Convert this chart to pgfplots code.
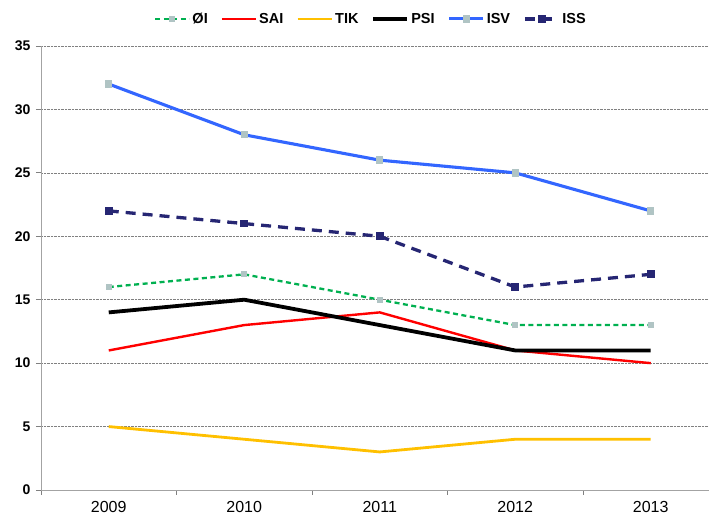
\documentclass[border=0pt]{standalone}
\usepackage{pgfplots}
\pgfplotsset{compat=1.18}
\usepackage{fontspec}
\setmainfont{Liberation Sans}
\definecolor{cOI}{RGB}{0,176,80}
\definecolor{cSAI}{RGB}{255,0,0}
\definecolor{cTIK}{RGB}{255,192,0}
\definecolor{cISV}{RGB}{51,102,255}
\definecolor{cISS}{RGB}{38,38,115}
\definecolor{mkgray}{RGB}{176,196,196}
\begin{document}
\begin{tikzpicture}
\useasboundingbox (-41pt,-28pt) rectangle (668pt,490pt);
\begin{axis}[
  at={(0,0)}, anchor=south west,
  width=668pt, height=444pt, scale only axis,
  xmin=-0.5, xmax=4.43, ymin=0, ymax=35,
  ytick={0,5,...,35},
  xtick={-0.5,0.5,1.5,2.5,3.5},
  xticklabels={},
  extra x ticks={0,1,2,3,4},
  extra x tick labels={2009,2010,2011,2012,2013},
  extra x tick style={major tick length=0pt, grid=none},
  axis x line*=bottom, axis y line*=left,
  axis line style={gray!80!black!60, line width=0.9pt},
  x axis line style={-}, y axis line style={-},
  tick align=outside,
  major tick length=5pt,
  tick style={gray, line width=0.8pt},
  ymajorgrids, grid style={densely dotted, gray, line width=0.6pt},
  yticklabel style={font=\fontsize{14}{16}\selectfont\bfseries, xshift=-2pt},
  xticklabel style={font=\fontsize{16}{18}\selectfont, yshift=-8pt},
  /pgf/number format/assume math mode=true,
  legend columns=6,
  legend style={draw=none, at={(0.494,1.061)}, anchor=center,
    font=\fontsize{14.5}{16}\selectfont\bfseries,
    nodes={inner xsep=2pt, inner ysep=1pt},
    /tikz/every even column/.append style={column sep=11pt}},
  legend image code/.code={\draw[mark repeat=2,mark phase=2,#1] plot coordinates {(0pt,0pt) (17pt,0pt) (34pt,0pt)};},
  clip=false,
]
\addplot[cOI, line width=2.3pt, dash pattern=on 5pt off 3.5pt, mark=square*, mark size=2.6pt, mark options={solid, draw=mkgray, fill=mkgray, line width=0pt}] coordinates {(0,16) (1,17) (2,15) (3,13) (4,13)};
\addlegendentry{ØI}
\addplot[cSAI, line width=2.4pt] coordinates {(0,11) (1,13) (2,14) (3,11) (4,10)};
\addlegendentry{SAI}
\addplot[cTIK, line width=2.8pt] coordinates {(0,5) (1,4) (2,3) (3,4) (4,4)};
\addlegendentry{TIK}
\addplot[black, line width=3.8pt] coordinates {(0,14) (1,15) (2,13) (3,11) (4,11)};
\addlegendentry{PSI}
\addplot[cISV, line width=3.1pt, mark=square*, mark size=3.2pt, mark options={draw=mkgray, fill=mkgray, line width=0pt}] coordinates {(0,32) (1,28) (2,26) (3,25) (4,22)};
\addlegendentry{ISV}
\addplot[cISS, line width=3.3pt, dash pattern=on 10pt off 7pt, mark=square*, mark size=3.4pt, mark options={solid, draw=cISS, fill=cISS, line width=0pt}] coordinates {(0,22) (1,21) (2,20) (3,16) (4,17)};
\addlegendentry{ISS}
\end{axis}
\end{tikzpicture}
\end{document}
